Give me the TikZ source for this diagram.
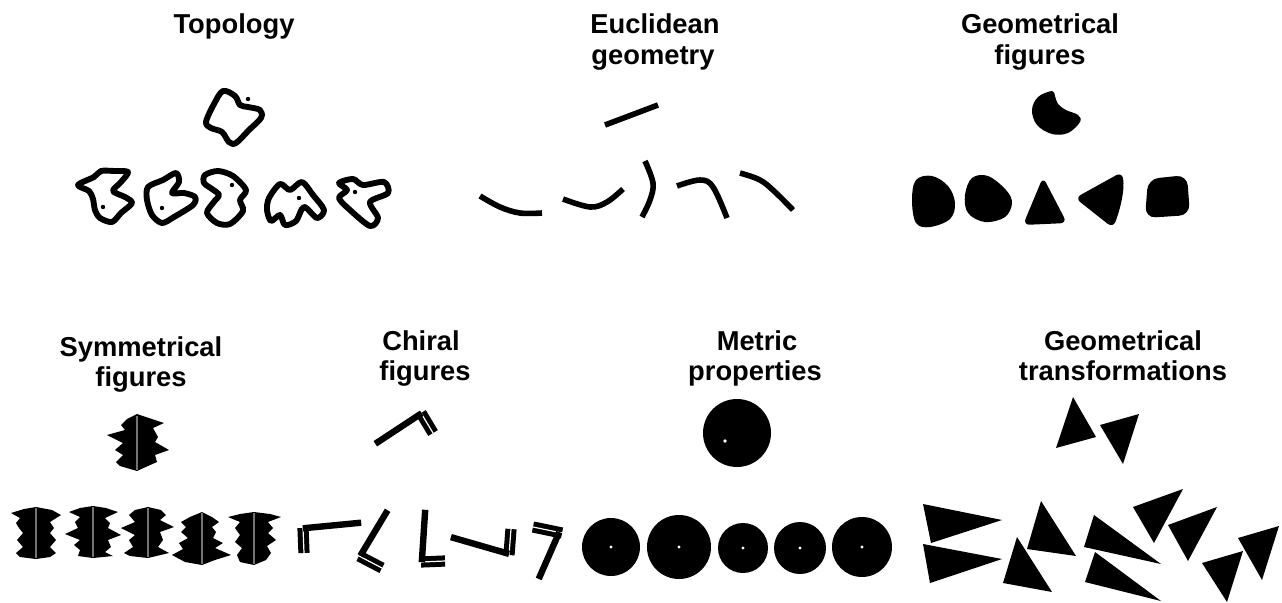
\documentclass[tikz,border=0pt]{standalone}
\usepackage{fontspec}
\setmainfont{Liberation Sans}
\begin{document}
\begin{tikzpicture}[x=0.75pt,y=-0.75pt,
  title/.style={font=\fontsize{20.5}{24}\selectfont\bfseries, anchor=base, inner sep=0pt},
  topo/.style={line width=4.4pt, line join=round},
  tdot/.style={fill=black},
  eu/.style={line width=4.2pt, line cap=butt},
  blob/.style={fill=black},
  sym/.style={fill=black},
  symline/.style={draw=black!55, line width=1pt},
  longbar/.style={line width=4.8pt, line cap=rect},
  shortbar/.style={line width=8.4pt, line cap=butt},
  gapline/.style={draw=white, line width=0.9pt, line cap=butt},
  wdot/.style={fill=white},
  tri/.style={fill=black, line join=miter}]
\useasboundingbox (0,0) rectangle (1282,603);

% ---------- titles ----------
\node[title] (topo) at (234,33) {Topology};
\node[title] (eucA) at (655,33) {Euclidean};
\node[title] (eucB) at (653,64) {geometry};
\node[title] (gfA) at (1040,33) {Geometrical};
\node[title] (gfB) at (1040,64) {figures};
\node[title] (symA) at (141,356) {Symmetrical};
\node[title] (symB) at (141,386) {figures};
\node[title] (chA) at (421,350) {Chiral};
\node[title] (chB) at (425,380) {figures};
\node[title] (meA) at (757,350) {Metric};
\node[title] (meB) at (755,380) {properties};
\node[title] (gtA) at (1123,350) {Geometrical};
\node[title] (gtB) at (1123,380) {transformations};

% ---------- topology ----------
\draw[topo] plot[smooth cycle, tension=0.55] coordinates {(223,91) (214,104) (206,122) (211,128) (222,132) (229,142) (236,143) (249,130) (261,118) (260,110) (248,107) (240,105) (235,96)};
\fill[tdot] (248,99) circle (2.2);

\draw[topo] plot[smooth cycle, tension=0.5] coordinates {(78,185) (94,177) (101,171) (114,171) (128,172) (121,182) (113,191) (125,197) (132,203) (121,213) (112,222) (100,218) (95,210) (93,199) (89,191)};
\fill[tdot] (103,207) circle (2.2);

\draw[topo] plot[smooth cycle, tension=0.5] coordinates {(148,187) (163,180) (176,173) (179,182) (172,193) (184,193) (195,197) (193,205) (174,217) (162,223) (152,215) (147,200)};
\fill[tdot] (162,208) circle (2.2);

\draw[topo] plot[smooth cycle, tension=0.5] coordinates {(205,175) (218,171) (233,176) (246,190) (240,200) (243,211) (230,224) (217,223) (207,213) (213,203) (219,195) (212,189) (204,183)};
\fill[tdot] (232,185) circle (2.2);

\draw[topo] plot[smooth cycle, tension=0.5] coordinates {(269,198) (280,184) (290,190) (302,182) (313,195) (324,210) (317,218) (304,207) (296,221) (285,225) (280,215) (271,221) (267,210)};
\fill[tdot] (299,198) circle (2.2);

\draw[topo] plot[smooth cycle, tension=0.5] coordinates {(339,183) (353,179) (363,185) (384,182) (388,193) (370,202) (378,218) (370,226) (350,210) (339,198) (347,190)};
\fill[tdot] (355,192) circle (2.2);

% ---------- Euclidean geometry ----------
\draw[eu] (605,125) -- (658,105);
\draw[eu] plot[smooth, tension=0.6] coordinates {(480,196) (500,207) (520,213) (542,213)};
\draw[eu] plot[smooth, tension=0.6] coordinates {(563,199) (590,207) (607,202) (623,189)};
\draw[eu] plot[smooth, tension=0.6] coordinates {(645,161) (653,183) (650,200) (642,217)};
\draw[eu] plot[smooth, tension=0.6] coordinates {(677,186) (700,180) (713,187) (727,218)};
\draw[eu] plot[smooth, tension=0.6] coordinates {(740,173) (760,180) (775,192) (793,210)};

% ---------- Geometrical figures ----------
\fill[blob] plot[smooth cycle, tension=0.6] coordinates {(1052,91) (1038,97) (1032,110) (1037,125) (1052,134) (1068,133) (1080,122) (1078,115) (1066,110) (1058,104) (1055,96)};
\fill[blob] plot[smooth cycle, tension=0.6] coordinates {(916,180) (932,176) (948,186) (955,203) (950,219) (930,227) (916,223) (912,200)};
\fill[blob] plot[smooth cycle, tension=0.6] coordinates {(972,178) (988,176) (1006,190) (1012,203) (1005,217) (985,222) (968,213) (965,195)};
\fill[blob, rounded corners=5pt] (1043,177) -- (1067,223) -- (1023,225) -- cycle;
\fill[blob, rounded corners=5pt] (1122,172) .. controls (1125,190) and (1120,210) .. (1113,228) -- (1075,198) -- cycle;
\fill[blob, rounded corners=8pt] (1148,179) -- (1187,175) -- (1190,215) -- (1145,218) -- cycle;

% ---------- Symmetrical figures ----------
\fill[sym] (137,414) -- (164,423) -- (153,428) -- (158,437) -- (155,442) -- (169,450) -- (155,455) -- (157,462) -- (148,466) -- (137,471) -- (120,466) -- (116,462) -- (123,455) -- (115,450) -- (123,443) -- (107,435) -- (125,430) -- (121,425) -- (127,419) -- cycle;
\draw[symline] (137,416) -- (137,470);

\fill[sym] (36,507) -- (52,510) -- (61,515) -- (50,522) -- (54,528) -- (50,533) -- (56,540) -- (50,547) -- (56,553) -- (50,557) -- (36,559) -- (20,557) -- (16,553) -- (23,547) -- (17,540) -- (23,533) -- (19,528) -- (16,523) -- (20,518) -- (11,513) -- (24,509) -- cycle;
\draw[symline] (36,508) -- (36,558);

\fill[sym] (93,506) -- (106,508) -- (118,512) -- (105,518) -- (110,523) -- (108,528) -- (121,535) -- (108,540) -- (111,547) -- (105,552) -- (113,556) -- (93,558) -- (78,556) -- (80,550) -- (74,545) -- (80,540) -- (65,534) -- (78,528) -- (75,522) -- (80,517) -- (69,512) -- (80,508) -- cycle;
\draw[symline] (93,507) -- (93,557);

\fill[sym] (148,507) -- (161,510) -- (166,515) -- (160,520) -- (174,527) -- (160,532) -- (163,540) -- (158,547) -- (169,553) -- (148,558) -- (130,556) -- (124,553) -- (133,547) -- (129,540) -- (135,535) -- (121,528) -- (135,522) -- (129,515) -- (135,510) -- cycle;
\draw[symline] (148,508) -- (148,557);

\fill[sym] (202,512) -- (212,517) -- (219,522) -- (212,527) -- (216,532) -- (213,538) -- (223,543) -- (215,548) -- (231,555) -- (215,560) -- (202,565) -- (185,562) -- (172,555) -- (183,549) -- (179,543) -- (188,538) -- (181,532) -- (186,527) -- (181,522) -- (190,517) -- cycle;
\draw[symline] (202,513) -- (202,564);

\fill[sym] (254,512) -- (270,514) -- (281,517) -- (268,522) -- (273,528) -- (268,533) -- (276,540) -- (267,546) -- (271,553) -- (266,560) -- (254,565) -- (240,562) -- (237,555) -- (242,548) -- (235,542) -- (240,535) -- (235,528) -- (240,522) -- (228,517) -- (240,514) -- cycle;
\draw[symline] (254,513) -- (254,564);

% ---------- Chiral figures ----------
\draw[shortbar] (421,413) -- (433,433);
\draw[gapline] (421,413) -- (433,433);
\draw[longbar] (378,442) -- (419,415);

\draw[shortbar] (303,528) -- (304,553);
\draw[gapline] (303,528) -- (304,553);
\draw[longbar] (358,523) -- (306,528);

\draw[shortbar] (359,556) -- (382,568);
\draw[gapline] (359,556) -- (382,568);
\draw[longbar] (386,513) -- (362,553);

\draw[shortbar] (421,562) -- (445,561);
\draw[gapline] (421,562) -- (445,561);
\draw[longbar] (425,513) -- (422,559);

\draw[shortbar] (509,555) -- (511,529);
\draw[gapline] (509,555) -- (511,529);
\draw[longbar] (454,538) -- (506,553);

\draw[shortbar] (533,527) -- (562,533);
\draw[gapline] (533,527) -- (562,533);
\draw[longbar] (540,576) -- (558,535);

% ---------- Metric properties ----------
\fill (737,433) circle (34);
\fill[wdot] (725,441) circle (1.8);
\fill (611,547) circle (29);
\fill[wdot] (611,547) circle (1.6);
\fill (679,547) circle (32);
\fill[wdot] (679,547) circle (1.6);
\fill (743,548) circle (25);
\fill[wdot] (743,548) circle (1.6);
\fill (800,548) circle (26);
\fill[wdot] (800,548) circle (1.6);
\fill (862,547) circle (30);
\fill[wdot] (862,547) circle (1.6);

% ---------- Geometrical transformations ----------
\fill[tri] (1073,397) -- (1056,448) -- (1096,437) -- cycle;
\fill[tri] (1100,425) -- (1139,414) -- (1123,464) -- cycle;
\fill[tri] (923,504) -- (1002,520) -- (931,543) -- cycle;
\fill[tri] (923,544) -- (1002,559) -- (930,583) -- cycle;
\fill[tri] (1041,501) -- (1027,549) -- (1076,556) -- cycle;
\fill[tri] (1017,537) -- (1003,583) -- (1052,592) -- cycle;
\fill[tri] (1094,515) -- (1084,547) -- (1161,564) -- cycle;
\fill[tri] (1095,552) -- (1085,582) -- (1161,601) -- cycle;
\fill[tri] (1133,507) -- (1183,489) -- (1154,543) -- cycle;
\fill[tri] (1168,525) -- (1217,507) -- (1188,561) -- cycle;
\fill[tri] (1238,538) -- (1279,526) -- (1262,580) -- cycle;
\fill[tri] (1202,563) -- (1243,551) -- (1227,602) -- cycle;
\end{tikzpicture}
\end{document}
